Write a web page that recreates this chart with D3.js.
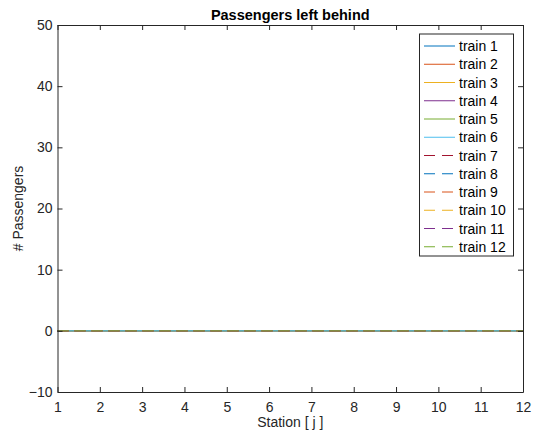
<!DOCTYPE html>
<html>
<head>
<meta charset="utf-8">
<script src="https://cdn.jsdelivr.net/npm/d3@7"></script>
<style>
  body { margin: 0; background: #fff; }
  svg { display: block; font-family: "Liberation Sans", Arial, sans-serif; }
</style>
</head>
<body>
<svg id="chart" width="534" height="438"></svg>
<script>
// Stations along the line
const stations = [1, 2, 3, 4, 5, 6, 7, 8, 9, 10, 11, 12];

// Passengers left behind at each station, one array per train
const train1  = [0, 0, 0, 0, 0, 0, 0, 0, 0, 0, 0, 0];
const train2  = [0, 0, 0, 0, 0, 0, 0, 0, 0, 0, 0, 0];
const train3  = [0, 0, 0, 0, 0, 0, 0, 0, 0, 0, 0, 0];
const train4  = [0, 0, 0, 0, 0, 0, 0, 0, 0, 0, 0, 0];
const train5  = [0, 0, 0, 0, 0, 0, 0, 0, 0, 0, 0, 0];
const train6  = [0, 0, 0, 0, 0, 0, 0, 0, 0, 0, 0, 0];
const train7  = [0, 0, 0, 0, 0, 0, 0, 0, 0, 0, 0, 0];
const train8  = [0, 0, 0, 0, 0, 0, 0, 0, 0, 0, 0, 0];
const train9  = [0, 0, 0, 0, 0, 0, 0, 0, 0, 0, 0, 0];
const train10 = [0, 0, 0, 0, 0, 0, 0, 0, 0, 0, 0, 0];
const train11 = [0, 0, 0, 0, 0, 0, 0, 0, 0, 0, 0, 0];
const train12 = [0, 0, 0, 0, 0, 0, 0, 0, 0, 0, 0, 0];

const trainNames = ["train 1", "train 2", "train 3", "train 4", "train 5", "train 6",
                    "train 7", "train 8", "train 9", "train 10", "train 11", "train 12"];
const trainValues = [train1, train2, train3, train4, train5, train6,
                     train7, train8, train9, train10, train11, train12];

const xTicks = [1, 2, 3, 4, 5, 6, 7, 8, 9, 10, 11, 12];
const yTicks = [-10, 0, 10, 20, 30, 40, 50];

// Line colours and styles
const colors = ["#0072BD", "#D95319", "#EDB120", "#7E2F8E", "#77AC30", "#4DBEEE",
                "#A2142F", "#0072BD", "#D95319", "#EDB120", "#7E2F8E", "#77AC30"];
const dashed = [false, false, false, false, false, false,
                true, true, true, true, true, true];

const svg = d3.select("#chart");
const plotLeft = 57.5, plotRight = 523, plotTop = 25, plotBottom = 392;

const x = d3.scaleLinear().domain([1, 12]).range([plotLeft, plotRight]);
const y = d3.scaleLinear().domain([-10, 50]).range([plotBottom, plotTop]);

const axisColor = "#262626";
const tickLen = 5;
const fontSize = 14;

// Series
const line = d3.line().x((d, i) => x(stations[i])).y(d => y(d));
const plot = svg.append("g");
trainValues.forEach((vals, k) => {
  plot.append("path")
    .datum(vals)
    .attr("d", line)
    .attr("fill", "none")
    .attr("stroke", colors[k])
    .attr("stroke-width", 1)
    .attr("stroke-dasharray", dashed[k] ? "11,6" : null);
});

// Axes (inward ticks, boxed)
const fmt = d3.format("d");
const gx = svg.append("g").attr("transform", `translate(0,${plotBottom})`)
  .call(d3.axisBottom(x).tickValues(xTicks).tickFormat(fmt).tickSizeInner(-tickLen).tickSizeOuter(0).tickPadding(10));
const gxTop = svg.append("g").attr("transform", `translate(0,${plotTop})`)
  .call(d3.axisTop(x).tickValues(xTicks).tickFormat("").tickSizeInner(-tickLen).tickSizeOuter(0));
const gy = svg.append("g").attr("transform", `translate(${plotLeft},0)`)
  .call(d3.axisLeft(y).tickValues(yTicks).tickFormat(fmt).tickSizeInner(-tickLen).tickSizeOuter(0).tickPadding(5));
const gyRight = svg.append("g").attr("transform", `translate(${plotRight},0)`)
  .call(d3.axisRight(y).tickValues(yTicks).tickFormat("").tickSizeInner(-tickLen).tickSizeOuter(0));

[gx, gxTop, gy, gyRight].forEach(g => {
  g.selectAll("path.domain").attr("stroke", axisColor).attr("stroke-width", 1);
  g.selectAll(".tick line").attr("stroke", axisColor).attr("stroke-width", 1);
  g.selectAll(".tick text").attr("fill", axisColor).attr("font-size", fontSize)
    .attr("font-family", "Liberation Sans, Arial, sans-serif");
});

// Title and axis labels
svg.append("text")
  .attr("x", (plotLeft + plotRight) / 2).attr("y", 20)
  .attr("text-anchor", "middle")
  .attr("font-size", 14.5).attr("font-weight", "bold").attr("fill", "#000")
  .text("Passengers left behind");

svg.append("text")
  .attr("x", (plotLeft + plotRight) / 2).attr("y", 427)
  .attr("text-anchor", "middle")
  .attr("font-size", fontSize).attr("fill", axisColor)
  .text("Station [ j ]");

svg.append("text")
  .attr("transform", `translate(23,${(plotTop + plotBottom) / 2}) rotate(-90)`)
  .attr("text-anchor", "middle")
  .attr("font-size", fontSize).attr("fill", axisColor)
  .text("# Passengers");

// Legend
const lgX = 419.5, lgY = 34, lgW = 94, lgH = 222, rowH = 18.25;
const legend = svg.append("g");
legend.append("rect")
  .attr("x", lgX).attr("y", lgY).attr("width", lgW).attr("height", lgH)
  .attr("fill", "#fff").attr("stroke", axisColor).attr("stroke-width", 1);
trainNames.forEach((name, k) => {
  const cy = lgY + 12 + k * rowH;
  legend.append("line")
    .attr("x1", lgX + 4.5).attr("x2", lgX + 35.5)
    .attr("y1", cy).attr("y2", cy)
    .attr("stroke", colors[k]).attr("stroke-width", 1)
    .attr("stroke-dasharray", dashed[k] ? "11,7" : null);
  legend.append("text")
    .attr("x", lgX + 39.5).attr("y", cy + 5)
    .attr("font-size", fontSize).attr("fill", "#000")
    .text(name);
});
</script>
</body>
</html>
